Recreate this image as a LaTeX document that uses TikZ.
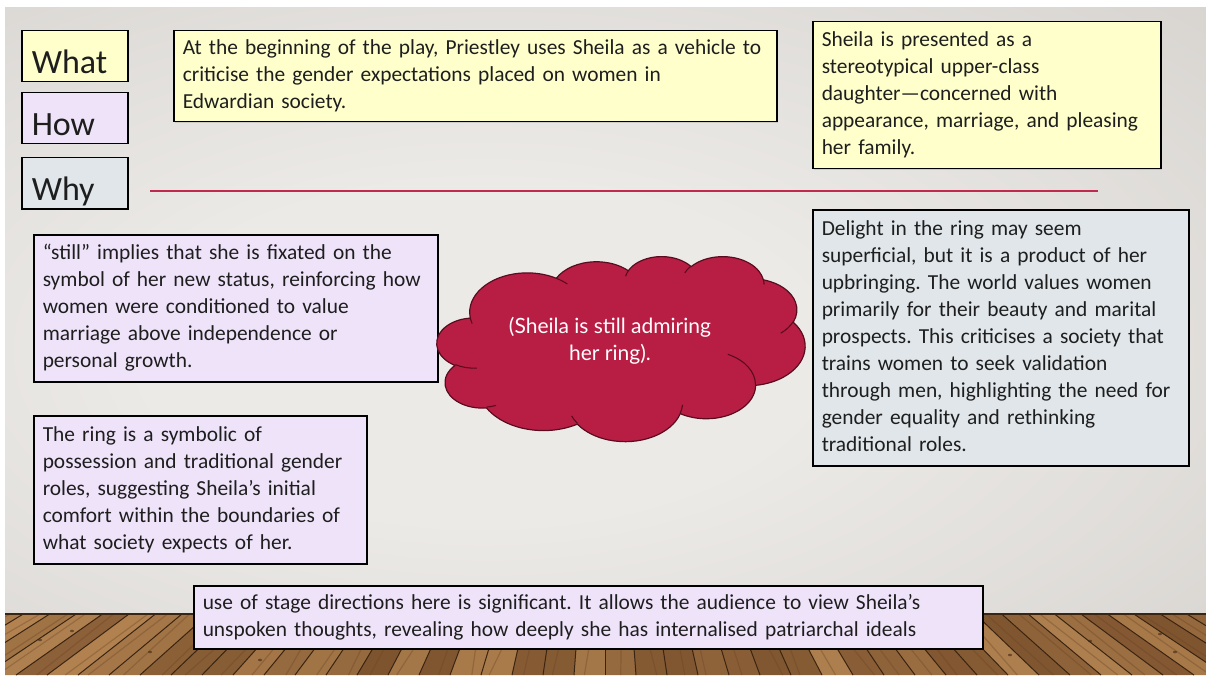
\documentclass[tikz,border=0pt]{standalone}
\usepackage{fontspec}
\setmainfont{Carlito}
\newfontfamily\cloudfont{Lato}
\usetikzlibrary{shadows}

\definecolor{noteyellow}{HTML}{FFFFCC}
\definecolor{notelilac}{HTML}{EFE3FA}
\definecolor{noteslate}{HTML}{E0E6EA}
\definecolor{crimson}{HTML}{B81E44}
\definecolor{ruleline}{HTML}{C02A4E}
\definecolor{cloudedge}{HTML}{5A0C1F}
\definecolor{wallmid}{HTML}{ECEAE7}
\definecolor{wallside}{HTML}{D8D5D1}
\definecolor{walledge}{HTML}{C7C3BF}
\definecolor{woodlight}{HTML}{BC8C57}
\definecolor{wooddark}{HTML}{6A4222}
\definecolor{woodseam}{HTML}{3A2412}
\definecolor{inktext}{HTML}{1E1E1E}

\pgfdeclareradialshading{wallglow}{\pgfpoint{-6bp}{-4bp}}{%
  color(0bp)=(wallmid); color(14bp)=(wallmid); color(40bp)=(wallside);
  color(62bp)=(walledge); color(100bp)=(walledge)}

% a block of fixed lines that never re-wraps
\newcommand{\textlines}[1]{\begin{tabular}{@{}l@{}}#1\end{tabular}}

% elliptical arc continuing from the current point:
% #1,#2 = radii, #3 = start angle on the ellipse as seen, #4 = sweep
\newcommand{\puffarc}[4]{arc[x radius=#1, y radius=#2,
  start angle={atan2(#1*sin(#3),#2*cos(#3))},
  delta angle={mod(atan2(#1*sin(#3+#4),#2*cos(#3+#4))-atan2(#1*sin(#3),#2*cos(#3))+720,360)}]}

\begin{document}
\frenchspacing
\begin{tikzpicture}[x=1pt,y=-1pt,
  note/.style={draw=black, line width=1.5pt, anchor=north west, align=left,
    inner xsep=9pt, inner ysep=0pt, text=inktext,
    font=\fontsize{21.4}{27}\selectfont,
    drop shadow={opacity=0.25, shadow xshift=1.5pt, shadow yshift=-1.5pt}},
  tag/.style={draw=black, line width=1.5pt, anchor=north west, align=left,
    minimum width=106pt, minimum height=51pt, text width=86pt,
    inner xsep=10pt, inner ysep=0pt, text height=34pt, text depth=0pt,
    text=inktext, font=\fontsize{34}{40}\selectfont},
  thoughttext/.style={text=white, align=center, inner sep=0pt,
    font=\cloudfont\fontsize{21}{27}\selectfont},
  crease/.style={draw=cloudedge, line width=1.1pt}
]
\useasboundingbox (0,0) rectangle (1206,679);
\fill[white] (0,0) rectangle (1206,679);

% wall
\shade[shading=wallglow] (5,8) rectangle (1206,614);

% wooden floor: planks converging to a vanishing point above the floor
\begin{scope}
  \clip (5,613) rectangle (1206,675);
  \fill[wooddark] (5,613) rectangle (1206,675);
  \pgfmathsetseed{7}
  \foreach \k in {-32,...,31}{
    \pgfmathsetmacro\xa{605+31*\k}
    \pgfmathsetmacro\xb{605+31*(\k+1)}
    \pgfmathsetmacro\ta{605+(\xa-605)*0.8506}
    \pgfmathsetmacro\tb{605+(\xb-605)*0.8506}
    \pgfmathsetmacro\mix{int(25+65*rnd)}
    \fill[woodlight!\mix!wooddark] (\ta,613) -- (\tb,613) -- (\xb,675) -- (\xa,675) -- cycle;
    \pgfmathsetmacro\ga{\ta+(\tb-\ta)*(0.25+0.5*rnd)}
    \pgfmathsetmacro\gb{\xa+(\xb-\xa)*(0.25+0.5*rnd)}
    \draw[wooddark, opacity=0.35, line width=1.2pt] (\ga,613) -- (\gb,675);
    \draw[woodseam, line width=1pt] (\ta,613) -- (\xa,675);
  }
  \foreach \p in {(40,640),(72,631),(150,652),(260,660),(330,648),(1010,655),(1090,641),(1160,634),(1175,652)}{
    \fill[woodseam, opacity=0.6] \p ellipse (2pt and 1.3pt);
  }
  \fill[woodseam] (5,612) rectangle (1206,615);
\end{scope}

% heading tags
\node[tag, fill=noteyellow] (what) at (21,30) {What};
\node[tag, fill=notelilac] (how) at (21,92) {How};
\node[tag, fill=noteslate] (why) at (21,157) {Why};

% divider
\coordinate (ruleL) at (150,191);
\coordinate (ruleR) at (1098,191);
\draw[ruleline, line width=2.6pt] (ruleL) -- (ruleR);

% notes
\node[note, fill=noteyellow, text width=585pt, minimum height=91pt] (intro) at (173,30)
  {\textlines{At the beginning of the play, Priestley uses Sheila as a vehicle to\\
   criticise the gender expectations placed on women in\\
   Edwardian society.}};

\node[note, fill=noteyellow, text width=330pt, minimum height=147pt] (daughter) at (812,21)
  {\textlines{Sheila is presented as a\\
   stereotypical upper-class\\
   daughter—concerned with\\
   appearance, marriage, and pleasing\\
   her family.}};

\node[note, fill=noteslate, text width=358pt, minimum height=256pt] (delight) at (812,209)
  {\textlines{Delight in the ring may seem\\
   superficial, but it is a product of her\\
   upbringing. The world values women\\
   primarily for their beauty and marital\\
   prospects. This criticises a society that\\
   trains women to seek validation\\
   through men, highlighting the need for\\
   gender equality and rethinking\\
   traditional roles.}};

\node[note, fill=notelilac, text width=386pt, minimum height=147pt] (still) at (33,234)
  {\textlines{“still” implies that she is fixated on the\\
   symbol of her new status, reinforcing how\\
   women were conditioned to value\\
   marriage above independence or\\
   personal growth.}};

\node[note, fill=notelilac, text width=315pt, minimum height=148pt] (ring) at (33,415)
  {\textlines{The ring is a symbolic of\\
   possession and traditional gender\\
   roles, suggesting Sheila’s initial\\
   comfort within the boundaries of\\
   what society expects of her.}};

\node[note, fill=notelilac, text width=771pt, minimum height=63pt] (stage) at (193,585)
  {\textlines{use of stage directions here is significant. It allows the audience to view Sheila’s\\
   unspoken thoughts, revealing how deeply she has internalised patriarchal ideals}};

% thought cloud: eleven puffs in a 432 x 432 frame, scaled into place
\begin{scope}[shift={(437,256)}, x=0.8519pt, y=-0.4282pt]
  \filldraw[fill=crimson, draw=cloudedge, line width=1.2pt, line join=round]
    (39.00,143.70)
    \puffarc{67.53}{91.90}{-190.487}{123.781}
    \puffarc{53.33}{72.67}{-144.102}{89.945}
    \puffarc{43.65}{59.45}{-145.808}{99.723}
    \puffarc{48.57}{65.95}{-130.986}{117.242}
    \puffarc{53.33}{72.73}{-78.709}{109.027}
    \puffarc{67.75}{92.20}{-46.267}{130.269}
    \puffarc{57.85}{78.67}{0.625}{114.033}
    \puffarc{67.52}{92.15}{22.452}{115.173}
    \puffarc{77.20}{105.43}{66.243}{75.711}
    \puffarc{43.60}{59.18}{-274.942}{146.736}
    \puffarc{43.45}{59.45}{-246.829}{152.519}
    -- cycle;
  % creases where the puffs overlap
  \draw[crease] (46.93,261.77) \puffarc{43.45}{59.45}{86.742}{26.430};
  \draw[crease] (69.28,348.99) \puffarc{43.60}{59.18}{73.611}{11.447};
  \draw[crease] (164.78,390.90) \puffarc{67.52}{92.15}{137.624}{14.081};
  \draw[crease] (288.27,347.51) \puffarc{67.52}{92.15}{6.453}{15.998};
  \draw[crease] (341.29,229.54) \puffarc{57.85}{78.67}{-70.292}{70.917};
  \draw[crease] (417.98,153.54) \puffarc{53.33}{72.73}{30.318}{27.752};
  \draw[crease] (383.24,54.26) \puffarc{48.57}{65.95}{-13.744}{14.854};
  \draw[crease] (290.78,39.52) \puffarc{48.57}{65.95}{-149.181}{18.197};
  \draw[crease] (221.41,47.20) \puffarc{43.65}{59.45}{-163.494}{17.686};
  \draw[crease] (140.00,51.92) \puffarc{67.53}{91.90}{-66.707}{12.319};
  \draw[crease] (41.27,157.89) \puffarc{67.53}{91.90}{157.654}{11.858};
\end{scope}
\node[thoughttext] (cloudtext) at (610,341) {(Sheila is still admiring\\her ring).};
\end{tikzpicture}
\end{document}
